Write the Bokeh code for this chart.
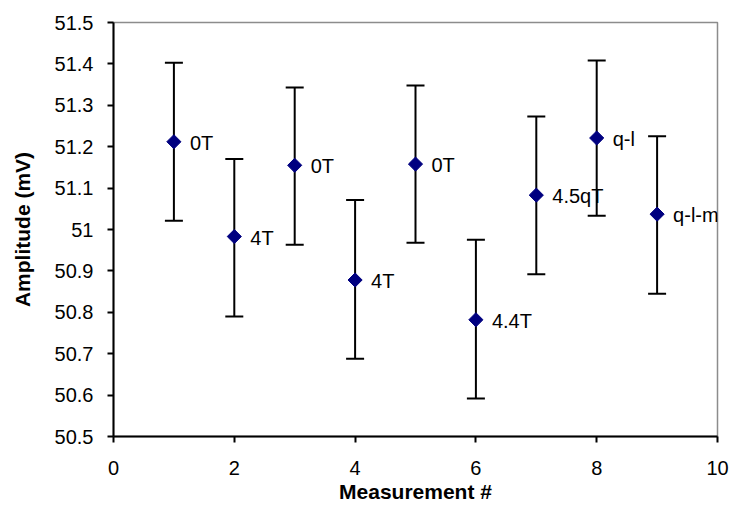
import math
from bokeh.plotting import figure
from bokeh.models import ColumnDataSource, Whisker, TeeHead, Range1d, FixedTicker
from bokeh.core.properties import value
from bokeh.embed import file_html
from bokeh.resources import INLINE

measurement = [1, 2, 3, 4, 5, 6, 7, 8, 9]
amplitude = [51.212, 50.983, 51.155, 50.878, 51.158, 50.782, 51.083, 51.221, 51.037]
err_upper = [51.403, 51.170, 51.343, 51.071, 51.348, 50.975, 51.273, 51.408, 51.225]
err_lower = [51.021, 50.790, 50.963, 50.688, 50.968, 50.592, 50.892, 51.033, 50.845]
labels = ["0T", "4T", "0T", "4T", "0T", "4.4T", "4.5qT", "q-l", "q-l-m"]
x_ticks = [0, 2, 4, 6, 8, 10]
y_ticks = [50.5, 50.6, 50.7, 50.8, 50.9, 51.0, 51.1, 51.2, 51.3, 51.4, 51.5]
y_tick_labels = ["50.5", "50.6", "50.7", "50.8", "50.9", "51", "51.1", "51.2", "51.3", "51.4", "51.5"]

src = ColumnDataSource(dict(x=measurement, y=amplitude, up=err_upper, lo=err_lower, lab=labels))

FONT = "Liberation Sans"

p = figure(width=730, height=505, output_backend="svg", toolbar_location=None,
           x_range=Range1d(0, 10), y_range=Range1d(50.5, 51.5),
           min_border_left=113, min_border_right=13, min_border_top=22, min_border_bottom=68)
p.outline_line_color = "#8c8c8c"
p.outline_line_width = 1.5
p.background_fill_color = "white"
p.border_fill_color = "white"
p.xgrid.visible = False
p.ygrid.visible = False

p.xaxis.ticker = FixedTicker(ticks=x_ticks)
p.yaxis.ticker = FixedTicker(ticks=y_ticks)
p.yaxis.major_label_overrides = {t: l for t, l in zip(y_ticks, y_tick_labels)}

for ax in (p.xaxis, p.yaxis):
    ax.axis_line_color = "black"
    ax.axis_line_width = 2
    ax.major_tick_line_color = "black"
    ax.major_tick_line_width = 2
    ax.major_tick_out = 6
    ax.major_tick_in = 0
    ax.minor_tick_line_color = None
    ax.major_label_text_font = FONT
    ax.major_label_text_font_size = "20px"
    ax.major_label_text_color = "black"
    ax.axis_label_text_font = FONT
    ax.axis_label_text_font_size = "21px"
    ax.axis_label_text_font_style = "bold"
    ax.axis_label_text_color = "black"

p.xaxis.axis_label = "Measurement #"
p.yaxis.axis_label = "Amplitude (mV)"
p.xaxis.major_label_standoff = 18
p.xaxis.axis_label_standoff = 2
p.yaxis.major_label_standoff = 14
p.yaxis.axis_label_standoff = 18

w = Whisker(source=src, base="x", upper="up", lower="lo", line_color="black", line_width=2,
            upper_head=TeeHead(size=18, line_color="black", line_width=2),
            lower_head=TeeHead(size=18, line_color="black", line_width=2))
p.add_layout(w)

p.scatter("x", "y", source=src, marker="square", angle=math.pi / 4, size=10,
          fill_color="#000080", line_color="#000080")

p.text("x", "y", text="lab", source=src, x_offset=16, y_offset=1,
       text_font=value(FONT), text_font_size="20px", text_color="black",
       text_baseline="middle", text_align="left")

open("out.html", "w").write(file_html(p, INLINE))
